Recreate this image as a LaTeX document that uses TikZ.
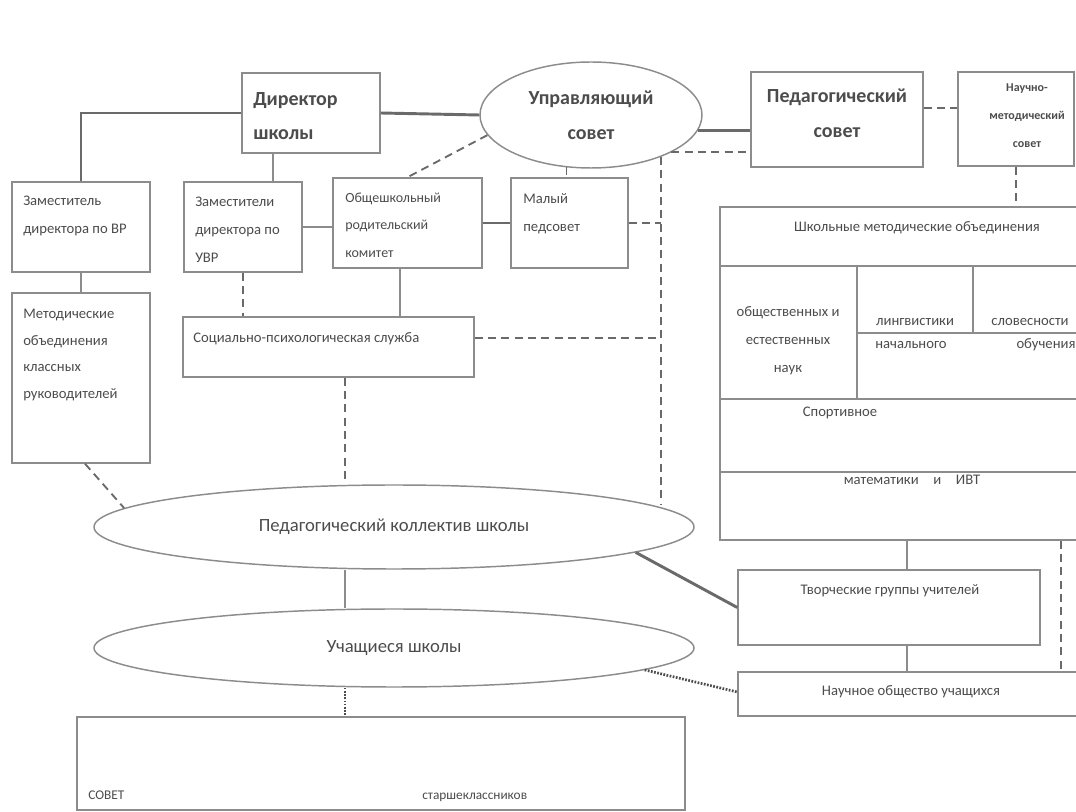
\documentclass[tikz,border=0pt]{standalone}
\usepackage{fontspec}
\setmainfont{Carlito}
\usetikzlibrary{shapes.geometric,fit}

\definecolor{boxgray}{HTML}{8C8C8C}
\definecolor{linegray}{HTML}{6A6A6A}
\definecolor{textgray}{HTML}{4C4C4C}

\tikzset{
  unitbox/.style={draw=boxgray, line width=1.1pt, inner sep=0pt},
  oval/.style={ellipse, draw=boxgray, line width=1.1pt, inner sep=0pt, text=textgray},
  txt/.style={text=textgray, inner sep=0pt, align=left, font=\fontsize{11}{21}\selectfont},
  head/.style={text=textgray, inner sep=0pt, align=center, font=\fontsize{15}{26}\selectfont\bfseries},
  link/.style={draw=boxgray, line width=1.1pt},
  mainlink/.style={draw=linegray, line width=2.2pt},
  dashlink/.style={draw=linegray, line width=1.4pt, dash pattern=on 6pt off 4pt},
  dotlink/.style={draw=textgray, line width=2pt, dash pattern=on 1.3pt off 1.1pt},
}

\begin{document}
\begin{tikzpicture}[x=0.75pt, y=-0.75pt]
  \useasboundingbox (0,0) rectangle (1076,812);
  \clip (0,0) rectangle (1076,812);

  % Top row: director, council, pedagogical council
  \node[unitbox, fit={(242,73) (380,153)}] (dir) {};
  \node[head, anchor=west, align=left] (dirtext) at (253,116) {Директор\\школы};
  \node[oval, minimum width=166.5pt, minimum height=79.5pt,
        font=\fontsize{15}{26}\selectfont\bfseries, align=center] (upr) at (591,115) {Управляющий\\совет};
  \node[unitbox, fit={(751,72) (923,167)}] (ped) {};
  \node[head] (pedtext) at (837,113) {Педагогический\\совет};
  \node[unitbox, fit={(958,72) (1074,166)}] (nmc) {};
  \node[head, font=\fontsize{9}{21}\selectfont\bfseries] (nmctext) at (1027,116) {Научно-\\методический\\совет};

  % Second row: deputies, committees
  \node[unitbox, fit={(12,182) (150,272)}] (zamvr) {};
  \node[txt, anchor=west] (zamvrtext) at (23,216) {Заместитель\\директора по ВР};
  \node[unitbox, fit={(184,182) (302,272)}] (zamuvr) {};
  \node[txt, anchor=west] (zamuvrtext) at (195,230) {Заместители\\директора по\\УВР};
  \node[unitbox, fit={(333,178) (482,268)}] (obsh) {};
  \node[txt, anchor=west, font=\fontsize{10.5}{20.5}\selectfont] (obshtext) at (345,225) {Общешкольный\\родительский\\комитет};
  \node[unitbox, fit={(511,178) (628,268)}] (maly) {};
  \node[txt, anchor=west] (malytext) at (523,214) {Малый\\педсовет};

  % Third row
  \node[unitbox, fit={(12,293) (150,463)}] (metod) {};
  \node[txt, anchor=west, font=\fontsize{11}{20}\selectfont] (metodtext) at (23,355) {Методические\\объединения\\классных\\руководителей};
  \node[unitbox, fit={(183,317) (474,377)}] (soc) {};
  \node[txt, anchor=west] (soctext) at (193,339) {Социально-психологическая служба};

  % School methodical unions
  \node[unitbox, fit={(720,207) (1090,540)}] (shmo) {};
  \draw[link] (shmo.west |- 0,266) -- (shmo.east |- 0,266);
  \draw[link] (857,266) -- (857,399);
  \draw[link] (973,266) -- (973,333);
  \draw[link] (857,333) -- (shmo.east |- 0,333);
  \draw[link] (shmo.west |- 0,399) -- (shmo.east |- 0,399);
  \draw[link] (shmo.west |- 0,472) -- (shmo.east |- 0,472);
  \node[txt] (shmohead) at (917,228) {Школьные методические объединения};
  \node[txt, align=center] (obshest) at (788,341) {общественных и\\естественных\\наук};
  \node[txt, anchor=base] (ling) at (915,326) {лингвистики};
  \node[txt, anchor=base] (slov) at (1030,326) {словесности};
  \node[txt, anchor=base] (nach) at (911,349) {начального};
  \node[txt, anchor=base] (obuch) at (1046,349) {обучения};
  \node[txt] (sport) at (840,413) {Спортивное};
  \node[txt] (matem) at (912,480) {математики\quad и\quad ИВТ};

  % Collective and pupils
  \node[oval, minimum width=450pt, minimum height=63pt,
        font=\fontsize{14}{20}\selectfont] (pedkol) at (394,527) {Педагогический коллектив школы};
  \node[oval, minimum width=450pt, minimum height=58.5pt,
        font=\fontsize{14}{20}\selectfont] (uch) at (394,648) {Учащиеся школы};
  \node[unitbox, fit={(738,570) (1040,645)}] (tvor) {};
  \node[txt] (tvortext) at (890,591) {Творческие группы учителей};
  \node[unitbox, fit={(738,672) (1090,716)}] (nauch) {};
  \node[txt] (nauchtext) at (911,692) {Научное общество учащихся};
  \node[unitbox, fit={(77,717) (685,810)}] (sovet) {};
  \node[txt, anchor=base west, font=\fontsize{10}{20}\selectfont] (sovettext) at (88,800) {СОВЕТ};
  \node[txt, anchor=base west, font=\fontsize{10}{20}\selectfont] (starsh) at (422,800) {старшеклассников};

  % Solid connectors
  \draw[mainlink] (dir.west) -| (zamvr.north);
  \draw[mainlink] (dir.east) -- (upr.west);
  \draw[mainlink] (upr.-8) -- (upr.-8 -| ped.west);
  \draw[link] (dir.south -| 273,0) -- (zamuvr.north -| 273,0);
  \draw[link] (zamuvr.east) -- (zamuvr.east -| obsh.west);
  \draw[mainlink] (obsh.east) -- (maly.west);
  \draw[link, line width=1.6pt] (zamvr.south) -- (metod.north);
  \draw[link] (obsh.south -| 400,0) -- (soc.north -| 400,0);
  \draw[link] (pedkol.south -| 345,0) -- (uch.north -| 345,0);
  \draw[mainlink] (pedkol.-6) -- (tvor.west);
  \draw[link] (shmo.south -| 907,0) -- (tvor.north -| 907,0);
  \draw[link] (tvor.south -| 907,0) -- (nauch.north -| 907,0);

  % Dashed connectors
  \draw[dashlink] (upr.191) -- (obsh.north);
  \draw[dashlink, line width=1pt] (upr.245) -- (upr.245 |- maly.north);
  \draw[dashlink] (upr.-25) -- (upr.-25 -| ped.west);
  \draw[dashlink] (upr.-31) -- (upr.-31 |- pedkol.5);
  \draw[dashlink] (maly.east) -- (maly.east -| upr.-31);
  \draw[dashlink] (soc.east |- 0,338) -- (upr.-31 |- 0,338);
  \draw[dashlink] (zamuvr.south) -- (zamuvr.south |- soc.north);
  \draw[dashlink] (soc.south -| 345,0) -- (pedkol.north -| 345,0);
  \draw[dashlink] (metod.south -| 85,0) -- (pedkol.176);
  \draw[dashlink] (ped.east |- 0,108) -- (nmc.west |- 0,108);
  \draw[dashlink] (nmc.south) -- (nmc.south |- shmo.north);
  \draw[dashlink] (shmo.south -| 1061,0) -- (nauch.north -| 1061,0);

  % Dotted connectors
  \draw[dotlink] (uch.south -| 345,0) -- (sovet.north -| 345,0);
  \draw[dotlink] (uch.-5) -- (nauch.west |- 0,692);
\end{tikzpicture}
\end{document}
